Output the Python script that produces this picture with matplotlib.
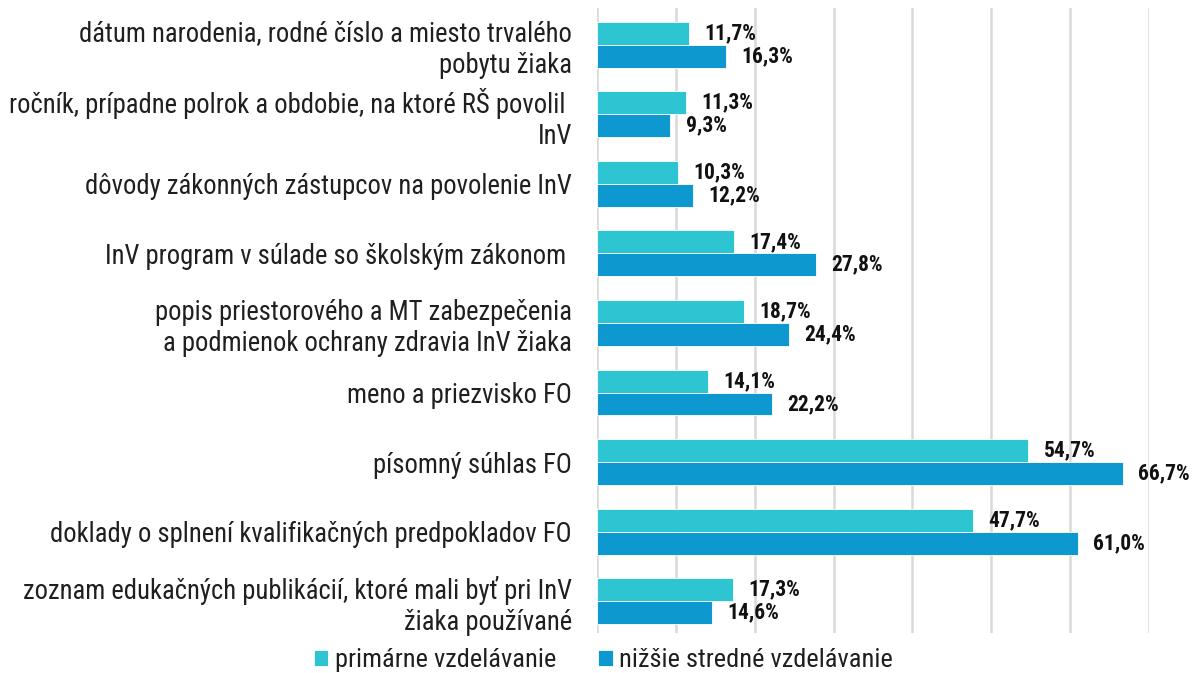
import numpy as np
import matplotlib
matplotlib.use("Agg")
from matplotlib import pyplot as plt
from matplotlib import font_manager

categories = [
    "dátum narodenia, rodné číslo a miesto trvalého\npobytu žiaka",
    "ročník, prípadne polrok a obdobie, na ktoré RŠ povolil \nInV",
    "dôvody zákonných zástupcov na povolenie InV",
    "InV program v súlade so školským zákonom ",
    "popis priestorového a MT zabezpečenia\na podmienok ochrany zdravia InV žiaka",
    "meno a priezvisko FO",
    "písomný súhlas FO",
    "doklady o splnení kvalifikačných predpokladov FO",
    "zoznam edukačných publikácií, ktoré mali byť pri InV\nžiaka používané",
]
primarne = [11.7, 11.3, 10.3, 17.4, 18.7, 14.1, 54.7, 47.7, 17.3]
nizsie = [16.3, 9.3, 12.2, 27.8, 24.4, 22.2, 66.7, 61.0, 14.6]
series_names = ["primárne vzdelávanie", "nižšie stredné vzdelávanie"]

# pick a condensed face if one is there
names = {f.name for f in font_manager.fontManager.ttflist}
font = "Roboto"
for cand in ["Roboto Condensed", "Liberation Sans Narrow", "Roboto"]:
    if cand in names:
        font = cand
        break
plt.rcParams["font.family"] = [font, "DejaVu Sans"]

c1 = "#2ec5d2"
c2 = "#0e98d0"

fig = plt.figure(figsize=(11.95, 6.73), dpi=100)
ax = fig.add_axes([0.4996, 0.0594, 0.4619, 0.9286])

y = np.arange(len(categories))
h = 0.33
b1 = ax.barh(y - h / 2, primarne, height=h, color=c1, edgecolor="white", linewidth=0.6,
             label=series_names[0], zorder=3)
b2 = ax.barh(y + h / 2, nizsie, height=h, color=c2, edgecolor="white", linewidth=0.6,
             label=series_names[1], zorder=3)

for bars, vals in [(b1, primarne), (b2, nizsie)]:
    for bar, v in zip(bars, vals):
        ax.annotate(f"{v:.1f}%".replace(".", ","),
                    (bar.get_width(), bar.get_y() + bar.get_height() / 2),
                    xytext=(11, 0), textcoords="offset points",
                    ha="left", va="center", fontsize=15.5, fontweight="bold",
                    color="#111111")

ax.set_xlim(0, 70)
ax.set_ylim(8.456, -0.524)
ax.set_xticks(np.arange(0, 71, 10))
ax.set_xticklabels([])
ax.set_yticks(y)
ax.set_yticklabels(categories, fontsize=19.2, color="#1f1f1f")
ax.tick_params(axis="both", length=0)
ax.tick_params(axis="y", pad=18)
ax.grid(axis="x", color="#d9d9d9", linewidth=1.8, zorder=0)
for s in ax.spines.values():
    s.set_visible(False)

fig.legend(handles=[b1, b2], labels=series_names, loc="center",
           bbox_to_anchor=(0.505, 0.019), ncol=2, frameon=False,
           fontsize=19, handlelength=0.55, handleheight=0.55,
           handletextpad=0.25, columnspacing=1.6, labelcolor="#1f1f1f")

fig.savefig("out.png", dpi=100)
